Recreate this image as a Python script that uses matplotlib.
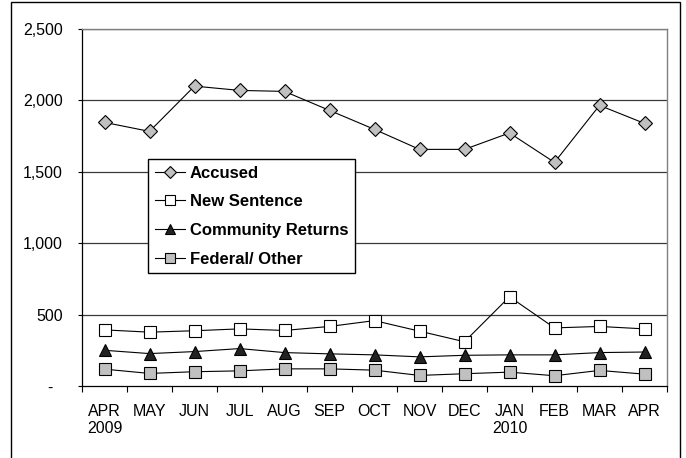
import matplotlib
matplotlib.use("Agg")
import matplotlib.pyplot as plt
from matplotlib.patches import Rectangle
import numpy as np

months = ["APR\n2009", "MAY", "JUN", "JUL", "AUG", "SEP", "OCT", "NOV", "DEC",
          "JAN\n2010", "FEB", "MAR", "APR"]
accused = [1846, 1783, 2100, 2070, 2063, 1930, 1797, 1657, 1657, 1772, 1566, 1965, 1839]
new_sentence = [393, 377, 387, 400, 389, 417, 458, 384, 310, 625, 407, 417, 400]
community_returns = [250, 227, 241, 262, 234, 225, 218, 204, 215, 218, 218, 234, 238]
federal_other = [118, 88, 100, 106, 120, 120, 111, 74, 86, 97, 72, 109, 83]
y_ticks = [0, 500, 1000, 1500, 2000, 2500]
y_labels = ["-  ", "500", "1,000", "1,500", "2,000", "2,500"]

plt.rcParams['font.family'] = ['Liberation Sans', 'DejaVu Sans']

W, H = 686, 458
fig = plt.figure(figsize=(W / 100, H / 100), dpi=100)
ax = fig.add_axes([82 / W, 1 - 386 / H, (667 - 82) / W, (386 - 29) / H])

# outer border of the chart area
fig.patches.append(Rectangle((11 / W, -0.05), (680 - 11) / W, 1.05 - 2 / H,
                             transform=fig.transFigure, fill=False,
                             edgecolor='black', linewidth=1.0))

x = np.arange(len(months))
lw = 0.8
ax.plot(x, accused, color='black', lw=lw, marker='D', ms=7.5, mfc='#C0C0C0',
        mec='black', mew=0.8, label='Accused', zorder=5)
ax.plot(x, new_sentence, color='black', lw=lw, marker='s', ms=8, mfc='white',
        mec='black', mew=0.8, label='New Sentence', zorder=5)
ax.plot(x, community_returns, color='black', lw=lw, marker='^', ms=8, mfc='#222222',
        mec='black', mew=0.8, label='Community Returns', zorder=5)
ax.plot(x, federal_other, color='black', lw=lw, marker='s', ms=8, mfc='#C0C0C0',
        mec='black', mew=0.8, label='Federal/ Other', zorder=5)

ax.set_xlim(-0.5, len(months) - 0.5)
ax.set_ylim(0, 2500)
ax.set_yticks(y_ticks)
ax.set_yticklabels(y_labels)
for v in y_ticks[1:]:
    ax.axhline(v, color='#3a3a3a', lw=0.9, zorder=1)

ax.set_xticks(x)
ax.set_xticklabels(months)
ax.set_xticks(np.arange(len(months) + 1) - 0.5, minor=True)
ax.tick_params(axis='x', which='major', length=0, pad=13, labelsize=11.5)
ax.tick_params(axis='x', which='minor', length=4, width=0.8, direction='out')
ax.tick_params(axis='y', length=3, width=0.8, pad=11, labelsize=11.5)

for s in ['left', 'bottom']:
    ax.spines[s].set_color('black')
    ax.spines[s].set_linewidth(0.9)
for s in ['top', 'right']:
    ax.spines[s].set_color('#808080')
    ax.spines[s].set_linewidth(1.0)

leg = ax.legend(loc='upper left', bbox_to_anchor=((148 - 82) / 585, (386 - 159) / 357),
                borderaxespad=0, frameon=True, fancybox=False, edgecolor='black',
                framealpha=1, prop={'weight': 'bold', 'size': 12},
                handlelength=1.8, handletextpad=0.3, labelspacing=0.82,
                borderpad=0.4, markerscale=0.85)
leg.get_frame().set_linewidth(1.0)
leg.set_zorder(10)

fig.savefig("out.png", dpi=100)
